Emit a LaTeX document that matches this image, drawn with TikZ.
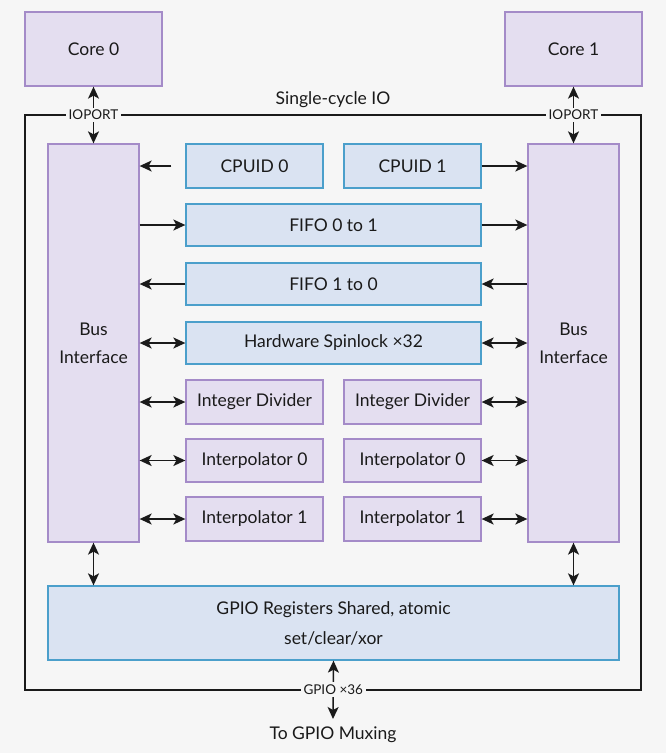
\documentclass[tikz,border=0pt]{standalone}
\usepackage{fontspec}
\setmainfont{Lato}
\usetikzlibrary{arrows.meta,positioning}
\definecolor{pagebg}{HTML}{F6F6F6}
\definecolor{corefill}{HTML}{E4DEF0}
\definecolor{coreline}{HTML}{A48BC8}
\definecolor{regfill}{HTML}{DAE3F2}
\definecolor{regline}{HTML}{4B9FCB}
\definecolor{ink}{HTML}{1A1A1A}
\tikzset{
  >={Stealth[length=12pt,width=11pt,inset=3pt]},
  purplebox/.style={draw=coreline,fill=corefill,line width=1.3pt,text=ink,font=\fontsize{17.5}{28}\selectfont,inner sep=0pt},
  bluebox/.style={draw=regline,fill=regfill,line width=1.3pt,text=ink,font=\fontsize{17.5}{28}\selectfont,inner sep=0pt},
  portlabel/.style={fill=pagebg,text=ink,font=\fontsize{13.5}{15}\selectfont,inner sep=2.5pt},
  link/.style={ink,line width=1.5pt}
}
\begin{document}
\begin{tikzpicture}[x=1pt,y=-1pt]

\fill[pagebg] (0,0) rectangle (666,753);
\useasboundingbox (0,0) rectangle (666,753);

% outer frame
\draw[ink,line width=1.7pt] (25,115) rectangle (641,690);
\node[text=ink,font=\fontsize{17.5}{20}\selectfont] (sio) at (333,100) {Single-cycle IO};

% cores
\node[purplebox,minimum width=137pt,minimum height=74pt] (core0) at (93.5,49) {Core 0};
\node[purplebox,minimum width=137pt,minimum height=74pt] (core1) at (573.5,49) {Core 1};

% bus interfaces
\node[purplebox,minimum width=91pt,minimum height=398pt,align=center] (busl) at (93.5,343) {Bus\\Interface};
\node[purplebox,minimum width=91pt,minimum height=398pt,align=center] (busr) at (573.5,343) {Bus\\Interface};

% shared blocks
\node[bluebox,minimum width=137pt,minimum height=44pt] (cpuid0) at (254.5,166) {CPUID 0};
\node[bluebox,minimum width=137pt,minimum height=44pt] (cpuid1) at (412.5,166) {CPUID 1};
\node[bluebox,minimum width=295pt,minimum height=42pt] (fifoa) at (333.5,225) {FIFO 0 to 1};
\node[bluebox,minimum width=295pt,minimum height=42pt] (fifob) at (333.5,284) {FIFO 1 to 0};
\node[bluebox,minimum width=295pt,minimum height=42pt] (spin) at (333.5,343) {Hardware Spinlock ×32};

% per-core blocks
\node[purplebox,minimum width=137pt,minimum height=44pt] (divl) at (254.5,402) {Integer Divider};
\node[purplebox,minimum width=137pt,minimum height=44pt] (divr) at (412.5,402) {Integer Divider};
\node[purplebox,minimum width=137pt,minimum height=43pt] (itpal) at (254.5,460.5) {Interpolator 0};
\node[purplebox,minimum width=137pt,minimum height=43pt] (itpar) at (412.5,460.5) {Interpolator 0};
\node[purplebox,minimum width=137pt,minimum height=44pt] (itpbl) at (254.5,519) {Interpolator 1};
\node[purplebox,minimum width=137pt,minimum height=44pt] (itpbr) at (412.5,519) {Interpolator 1};

% gpio
\node[bluebox,minimum width=571pt,minimum height=74pt,align=center,font=\fontsize{17.5}{30}\selectfont] (gpio) at (333.5,623) {GPIO Registers Shared, atomic\\set/clear/xor};
\node[text=ink,font=\fontsize{17.5}{20}\selectfont] (mux) at (333,735) {To GPIO Muxing};
\coordinate (muxtop) at (333,719);

% connectors
\draw[link,<->] (core0.south) -- node[portlabel,pos=0.5] {IOPORT} (busl.north);
\draw[link,<->] (core1.south) -- node[portlabel,pos=0.5] {IOPORT} (busr.north);

\coordinate (cpuidtail) at ([xshift=-14pt]cpuid0.west);
\draw[link,->] (cpuidtail) -- (busl.east |- cpuid0.west);
\draw[link,->] (cpuid1.east) -- (busr.west |- cpuid1.east);

\draw[link,->] (busl.east |- fifoa.west) -- (fifoa.west);
\draw[link,->] (fifoa.east) -- (busr.west |- fifoa.east);
\draw[link,->] (fifob.west) -- (busl.east |- fifob.west);
\draw[link,->] (busr.west |- fifob.east) -- (fifob.east);
\draw[link,<->] (busl.east |- spin.west) -- (spin.west);
\draw[link,<->] (spin.east) -- (busr.west |- spin.east);

\foreach \blk in {divl,itpal,itpbl}
  \draw[link,<->] (busl.east |- \blk.west) -- (\blk.west);
\foreach \blk in {divr,itpar,itpbr}
  \draw[link,<->] (\blk.east) -- (busr.west |- \blk.east);

\draw[link,<->] (busl.south) -- (busl.south |- gpio.north);
\draw[link,<->] (busr.south) -- (busr.south |- gpio.north);
\draw[link,<->] (gpio.south) -- node[portlabel,pos=0.5] {GPIO ×36} (muxtop);

\end{tikzpicture}
\end{document}
